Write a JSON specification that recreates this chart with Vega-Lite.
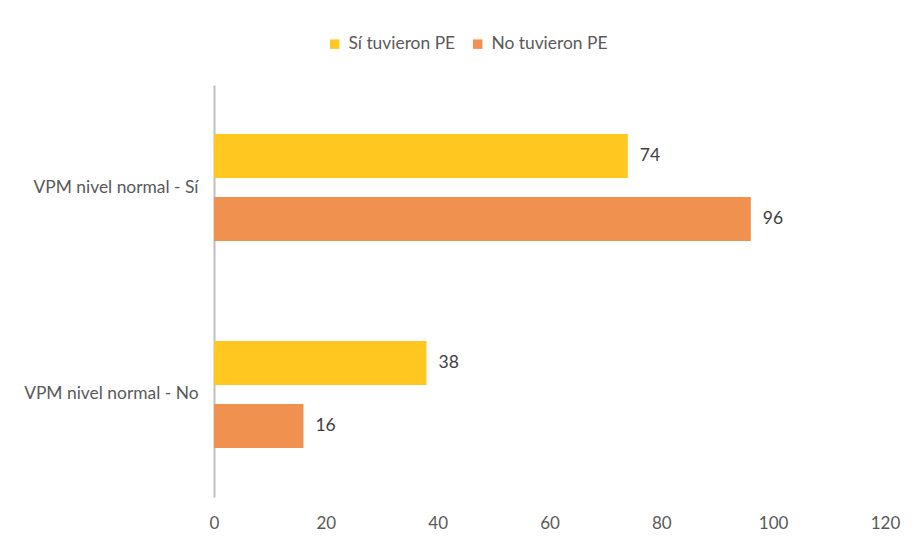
{
  "$schema": "https://vega.github.io/schema/vega-lite/v6.json",
  "width": 671,
  "height": 412,
  "autosize": {"type": "none"},
  "padding": {"left": 214, "top": 85, "right": 28, "bottom": 45},
  "background": "white",
  "config": {
    "view": {"stroke": null},
    "font": "Lato",
    "text": {"font": "Lato"}
  },
  "data": {
    "values": [
      {"grupo": "VPM nivel normal - Sí", "serie": "Sí tuvieron PE", "valor": 74},
      {"grupo": "VPM nivel normal - Sí", "serie": "No tuvieron PE", "valor": 96},
      {"grupo": "VPM nivel normal - No", "serie": "Sí tuvieron PE", "valor": 38},
      {"grupo": "VPM nivel normal - No", "serie": "No tuvieron PE", "valor": 16}
    ]
  },
  "encoding": {
    "y": {
      "field": "grupo",
      "type": "nominal",
      "sort": ["VPM nivel normal - Sí", "VPM nivel normal - No"],
      "scale": {"paddingInner": 0.483, "paddingOuter": 0.237},
      "axis": {
        "title": null,
        "ticks": false,
        "domain": true,
        "domainColor": "#BFBFBF",
        "domainWidth": 2,
        "labelPadding": 16,
        "labelFontSize": 17.4,
        "labelColor": "#595959",
        "labelFont": "Lato",
        "labelLimit": 300
      }
    },
    "yOffset": {
      "field": "serie",
      "type": "nominal",
      "sort": ["Sí tuvieron PE", "No tuvieron PE"],
      "scale": {"paddingInner": 0.3, "paddingOuter": 0}
    },
    "x": {
      "field": "valor",
      "type": "quantitative",
      "scale": {"domain": [0, 120], "nice": false},
      "axis": {
        "title": null,
        "values": [0, 20, 40, 60, 80, 100, 120],
        "grid": false,
        "domain": false,
        "ticks": false,
        "labelFlush": false,
        "labelPadding": 18,
        "labelFontSize": 17,
        "labelColor": "#595959",
        "labelFont": "Lato"
      }
    }
  },
  "layer": [
    {
      "mark": {"type": "bar"},
      "encoding": {
        "color": {
          "field": "serie",
          "type": "nominal",
          "sort": ["Sí tuvieron PE", "No tuvieron PE"],
          "scale": {"domain": ["Sí tuvieron PE", "No tuvieron PE"], "range": ["#FFC71F", "#F09150"]},
          "legend": {
            "title": null,
            "orient": "none",
            "direction": "horizontal",
            "legendX": 112,
            "legendY": -50,
            "symbolType": "square",
            "symbolSize": 90,
            "symbolStrokeWidth": 0,
            "labelFontSize": 17.4,
            "labelColor": "#595959",
            "labelFont": "Lato",
            "labelLimit": 300,
            "columnPadding": 13,
            "labelOffset": 5
          }
        }
      }
    },
    {
      "mark": {"type": "text", "align": "left", "dx": 12, "fontSize": 17.5, "color": "#404040"},
      "encoding": {
        "text": {"field": "valor", "type": "quantitative"}
      }
    }
  ]
}
